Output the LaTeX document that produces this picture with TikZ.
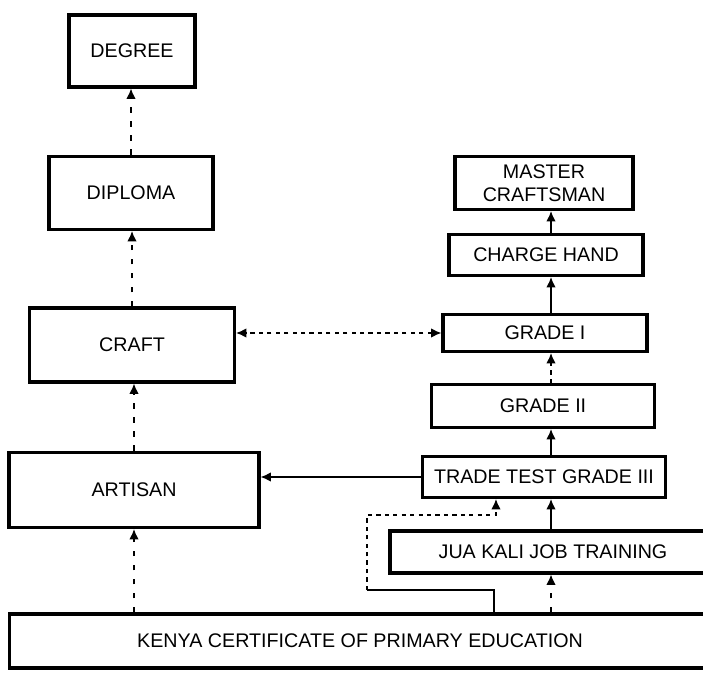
\documentclass[tikz,border=0pt]{standalone}
\usepackage{fontspec}
\setmainfont{Liberation Sans}
\usetikzlibrary{arrows.meta,positioning,calc}

\begin{document}
\begin{tikzpicture}[
    x=0.025cm, y=-0.025cm,
    box/.style={draw, line width=2.2pt, inner sep=2pt, font=\fontsize{14}{16}\selectfont, align=center},
    arr/.style={-{Latex[length=2.6mm,width=2.4mm]}, line width=1pt},
    faint/.style={arr, dash pattern=on 4pt off 6pt},
    both/.style={{Latex[length=2.6mm,width=2.4mm]}-{Latex[length=2.6mm,width=2.4mm]}, line width=1pt, dashed}
]
\useasboundingbox (0,0) rectangle (703,682);
\clip (0,0) rectangle (703,682);

% formal ladder
\node[box, minimum width=3.15cm, minimum height=1.8cm] (degree) at (132,51) {DEGREE};
\node[box, minimum width=4.1cm, minimum height=1.825cm] (diploma) at (131,193) {DIPLOMA};
\node[box, minimum width=5.125cm, minimum height=1.85cm] (craft) at (132,345) {CRAFT};
\node[box, minimum width=6.25cm, minimum height=1.875cm] (artisan) at (134,490) {ARTISAN};

% trade test ladder
\node[box, minimum width=4.45cm, minimum height=1.325cm] (master) at (544,183) {MASTER\\CRAFTSMAN};
\node[box, minimum width=4.85cm, minimum height=1.025cm] (charge) at (546,255) {CHARGE HAND};
\node[box, minimum width=5.1cm, minimum height=0.925cm] (gradeone) at (545,333) {GRADE I};
\node[box, minimum width=5.575cm, minimum height=1.075cm] (gradetwo) at (543,406) {GRADE II};
\node[box, minimum width=6.075cm, minimum height=1.025cm] (trade) at (544,477) {TRADE TEST GRADE III};
\node[box, minimum width=8.15cm, minimum height=1.05cm] (jua) at (553,552) {JUA KALI JOB TRAINING};

\node[box, minimum width=17.5cm, minimum height=1.35cm] (kcpe) at (360,641) {KENYA CERTIFICATE OF PRIMARY EDUCATION};

\coordinate (rail) at (551,0);
\coordinate (bend) at (367,590);

\draw[faint] (diploma.north) -- (diploma.north |- degree.south);
\draw[faint] (craft.north) -- (craft.north |- diploma.south);
\draw[faint] (artisan.north) -- (artisan.north |- craft.south);
\draw[faint] (kcpe.north -| artisan.south) -- (artisan.south);

\draw[both] (gradeone.west) -- (gradeone.west -| craft.east);
\draw[arr] (trade.west) -- (trade.west -| artisan.east);

\draw[arr] (trade.north -| rail) -- (gradetwo.south -| rail);
\draw[arr, dashed] (gradetwo.north -| rail) -- (gradeone.south -| rail);
\draw[arr] (gradeone.north -| rail) -- (charge.south -| rail);
\draw[arr] (charge.north -| rail) -- (master.south -| rail);
\draw[arr] (jua.north -| rail) -- (trade.south -| rail);
\draw[faint] (kcpe.north -| rail) -- (jua.south -| rail);

% way round jua kali
\draw[line width=1pt] ([xshift=3.35cm]kcpe.north) |- (bend);
\draw[arr, dashed] (bend) -- ++(0,-75) -| ([xshift=-1.2cm]trade.south);
\end{tikzpicture}
\end{document}
